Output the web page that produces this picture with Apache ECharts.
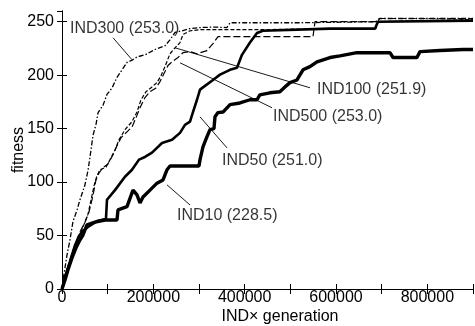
<!DOCTYPE html>
<html>
<head>
<meta charset="utf-8">
<script src="https://cdn.jsdelivr.net/npm/echarts@6/dist/echarts.min.js"></script>
<style>
html, body { margin: 0; padding: 0; background: #fff; }
#chart { width: 475px; height: 326px; }
</style>
</head>
<body>
<div id="chart"></div>
<script>
// values (x = IND x generation, y = fitness)
var ind300X = [0,4000,11000,17500,24000,33000,39000,50000,57000,63500,68000,74500,79000,90000,98500,109500,120500,131500,142500,153500,164000,182000,203500,225500,236500,247500,263000,280000,302000,335000,361000,368000,521000,690000,696000,900000];
var ind300Y = [0,13,32,46,63,74,83,97,111,130,144,154,165,172,182,188,198,205,212,214,217,219,224,227.5,233,240,241.5,243.5,244.5,245,244.5,249,249,250,253,253];

var ind100X = [0,8800,17500,32800,46000,56900,63500,70100,76600,83200,96300,105100,116000,124800,137900,153300,164200,173000,183900,197100,208000,216800,225500,236500,247400,258400,264900,280300,302200,427000,586800,687500,691900,900000];
var ind100Y = [0,16,25,43,58,70,83,96.5,106,111.5,114,121,130,139.5,149,156.5,165.5,177,184.5,189,193,199.5,208,220,225.5,230.5,238,241.5,242.5,242.5,243.5,243.5,250,251.9];

var ind500X = [0,6600,15300,26300,39400,50400,59100,65700,70100,74400,81000,89800,100700,111700,120400,129200,142300,153300,162000,170800,181700,192700,205800,214600,223300,232100,240900,254000,264900,280300,295600,317500,330600,341600,549600,554000,687500,691900,900000];
var ind500Y = [0,12,25,38.5,53.5,62.5,72,83.5,92.5,102,108.5,113.5,117,125.5,134,141.5,147,151.5,160,169.5,179,184.5,188,194,201.5,209,212.5,216.5,221,222,220,223,229.5,236,236,250,250,253,253];

var ind50X = [0,6600,15300,21900,28500,37200,43800,56900,76600,96300,98500,116000,137900,153300,168600,181700,197100,219000,240900,258400,269300,280300,286800,295600,302200,313100,330600,346000,367900,383200,394100,411600,427000,440100,586800,685300,691900,900000];
var ind50Y = [0,11,22.5,32,41,49.5,53.5,58,63.5,65.5,83.5,92.5,105,111.5,121,123.5,127.5,136.5,139.5,146,153.5,156.5,165.5,177,186.5,190,195.5,200.5,205,207,219,230.5,239.5,241.5,243.5,243.5,250,251];

var ind10X = [0,6600,13100,21900,30700,39400,46000,54700,72300,94200,120400,122600,142300,155500,164200,170800,177400,192700,208000,221200,229900,236500,300000,302200,308700,317500,324100,332800,335000,341600,352500,367900,389700,411600,427000,433200,455200,477100,488300,499300,514600,527700,543000,558400,586800,608700,645900,718200,724800,777300,783900,827700,878000,900000];
var ind10Y = [0,8.5,18,29,38.5,46,50.5,60,62.5,64.5,64.5,74,77,92.5,88,80.5,86,92.5,99,102,111.5,115,115,121,133,142.5,149,150,161,165,165.5,172.5,174,177,177,181.5,183.5,184.5,189,193,195.5,205,208,212.5,216.5,218,221,221,216.5,216.5,222,223,224,224];

var seriesNames = ['IND300', 'IND100', 'IND500', 'IND50', 'IND10'];
var finalFitness = ['253.0', '251.9', '253.0', '251.0', '228.5'];
// where each name is written (left edge, middle) and the leader line ends
var labelAt = [[17500,243.4],[558400,186.3],[462000,161],[350300,119.8],[251800,68.3]];
var leaderFrom = [[111700,235],[247400,225.6],[258400,211.6],[302200,161],[229900,97.4]];
var leaderTo = [[153300,214.4],[543000,188.2],[459800,169.5],[361300,132],[280300,78.6]];

var xTicks = [0,200000,400000,600000,800000];

function pairs(xs, ys){
	var out = [];
	for(var i = 0; i < xs.length; i++){
		out.push([xs[i], ys[i]]);
	}
	return out;
}

var myChart = echarts.init(document.getElementById('chart'), null, {renderer: 'canvas'});
var fontFam = '"Liberation Sans", Arial, Helvetica, sans-serif';

var lineSeries = [
	{data: pairs(ind300X, ind300Y), width: 1.3, dash: [5,2,1.5,2]},
	{data: pairs(ind100X, ind100Y), width: 1.2, dash: [4,2]},
	{data: pairs(ind500X, ind500Y), width: 1.2, dash: [7,3]},
	{data: pairs(ind50X, ind50Y), width: 2.6, dash: 'solid'},
	{data: pairs(ind10X, ind10Y), width: 3.4, dash: 'solid'}
];

var series = [];
for(var i = 0; i < lineSeries.length; i++){
	series.push({
		name: seriesNames[i],
		type: 'line',
		data: lineSeries[i].data,
		showSymbol: false,
		symbol: 'none',
		lineStyle: {color: '#000', width: lineSeries[i].width, type: lineSeries[i].dash},
		z: 3
	});
}

// leader lines
var leaders = [];
for(var j = 0; j < seriesNames.length; j++){
	leaders.push([{coord: leaderFrom[j]}, {coord: leaderTo[j]}]);
}
series.push({
	type: 'line',
	data: [],
	markLine: {
		silent: true,
		symbol: 'none',
		label: {show: false},
		lineStyle: {color: '#000', width: 0.9, type: 'solid'},
		data: leaders
	}
});

// annotation texts
var labelData = [];
for(var k = 0; k < seriesNames.length; k++){
	labelData.push([labelAt[k][0], labelAt[k][1], seriesNames[k] + ' (' + finalFitness[k] + ')']);
}
series.push({
	type: 'scatter',
	symbolSize: 0,
	data: labelData,
	z: 5,
	label: {
		show: true,
		position: 'inside',
		align: 'left',
		verticalAlign: 'middle',
		color: '#000',
		fontSize: 16,
		fontFamily: fontFam,
		formatter: function(p){ return p.data[2]; }
	}
});

var option = {
	animation: false,
	backgroundColor: '#fff',
	grid: {left: 62, right: 2, top: 11, bottom: 37, containLabel: false, outerBoundsMode: 'none'},
	xAxis: [
		{
			type: 'value',
			min: 0,
			max: 900000,
			interval: 100000,
			name: 'IND\u00d7 generation',
			nameLocation: 'middle',
			nameGap: 20,
			nameMoveOverlap: false,
			nameTextStyle: {color: '#000', fontSize: 16, fontFamily: fontFam, padding: [0, 0, 0, 25], verticalAlign: 'top'},
			axisLine: {lineStyle: {color: '#000', width: 1}},
			axisTick: {inside: true, length: 5, lineStyle: {color: '#000'}},
			axisLabel: {
				color: '#000', fontSize: 16, fontFamily: fontFam, margin: 1,
				formatter: function(v){ return xTicks.indexOf(v) >= 0 ? String(v) : ''; }
			},
			splitLine: {show: false}
		},
		{
			type: 'value',
			position: 'top',
			min: 0,
			max: 900000,
			interval: 100000,
			axisLine: {lineStyle: {color: '#000', width: 1}},
			axisTick: {inside: true, length: 5, lineStyle: {color: '#000'}},
			axisLabel: {show: false},
			splitLine: {show: false}
		}
	],
	yAxis: [
		{
			type: 'value',
			min: 0,
			max: 260,
			interval: 50,
			name: 'fitness',
			nameLocation: 'middle',
			nameGap: 35,
			nameMoveOverlap: false,
			nameTextStyle: {color: '#000', fontSize: 16, fontFamily: fontFam},
			axisLine: {show: true, lineStyle: {color: '#000', width: 1}},
			axisTick: {show: true, inside: true, length: 5, lineStyle: {color: '#000'}},
			axisLabel: {color: '#000', fontSize: 16, fontFamily: fontFam, margin: 8, showMaxLabel: false},
			splitLine: {show: false}
		},
		{
			type: 'value',
			position: 'right',
			min: 0,
			max: 260,
			interval: 50,
			axisLine: {show: true, lineStyle: {color: '#000', width: 1}},
			axisTick: {show: true, inside: true, length: 5, lineStyle: {color: '#000'}},
			axisLabel: {show: false},
			splitLine: {show: false}
		}
	],
	series: series
};
myChart.setOption(option);
</script>
</body>
</html>
